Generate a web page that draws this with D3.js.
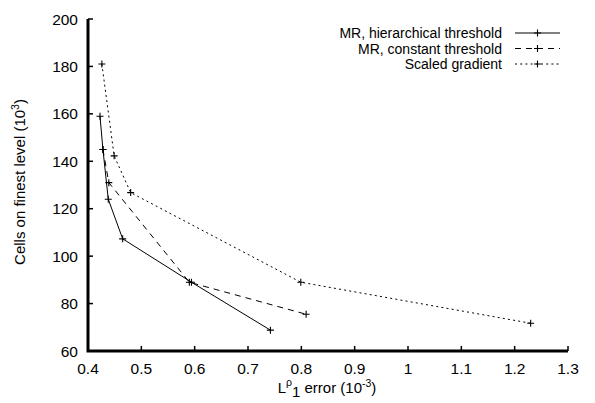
<!DOCTYPE html>
<html lang="en">
<head>
<meta charset="UTF-8">
<title>Cells vs error</title>
<script src="https://cdn.jsdelivr.net/npm/d3@7"></script>
<style>
  body { margin: 0; background: #fff; }
  svg { display: block; overflow: visible; }
  text { font-family: "Liberation Sans", Arial, sans-serif; fill: #000; }
</style>
</head>
<body>
<svg id="mainsvg" width="595" height="403"></svg>
<script>
    // data
    const seriesNames = ["MR, hierarchical threshold", "MR, constant threshold", "Scaled gradient"];
    const hierErr   = [0.4225, 0.428, 0.438, 0.465, 0.594, 0.742];
    const hierCells = [159, 145, 124, 107.3, 89, 68.8];
    const constErr   = [0.428, 0.439, 0.59, 0.809];
    const constCells = [145, 131, 89, 75.5];
    const gradErr   = [0.426, 0.449, 0.48, 0.799, 1.23];
    const gradCells = [181, 142.3, 126.8, 89, 71.7];
    const xTicks = [0.4, 0.5, 0.6, 0.7, 0.8, 0.9, 1, 1.1, 1.2, 1.3];
    const yTicks = [60, 80, 100, 120, 140, 160, 180, 200];

    const svg = d3.select("svg");
    const margin = {top: 19, right: 27, bottom: 52, left: 88};
    const width = +svg.attr("width");
    const height = +svg.attr("height");

    // scales in page pixels, so every text sits at absolute coordinates
    const x = d3.scaleLinear().domain([0.4, 1.3]).range([margin.left, width - margin.right]);
    const y = d3.scaleLinear().domain([60, 200]).range([height - margin.bottom, margin.top]);
    const x0 = x.range()[0], y0 = y.range()[0];

    // thick spines on left/bottom, ticks pointing inward
    svg.append("path")
        .attr("d", `M${x0},${margin.top}V${y0}H${x.range()[1]}`)
        .attr("fill", "none").attr("stroke", "#000").attr("stroke-width", 3);
    svg.selectAll(".xtick").data(xTicks).join("line")
        .attr("class", "xtick")
        .attr("x1", d => x(d)).attr("x2", d => x(d))
        .attr("y1", y0).attr("y2", y0 - 5)
        .attr("stroke", "#000").attr("stroke-width", 1.5);
    svg.selectAll(".xlab").data(xTicks).join("text")
        .attr("class", "xlab")
        .attr("x", d => x(d)).attr("y", y0 + 23)
        .attr("text-anchor", "middle").attr("font-size", 15.5)
        .text(d => String(+d.toFixed(1)));
    svg.selectAll(".ytick").data(yTicks).join("line")
        .attr("class", "ytick")
        .attr("x1", x0).attr("x2", x0 + 5)
        .attr("y1", d => y(d)).attr("y2", d => y(d))
        .attr("stroke", "#000").attr("stroke-width", 1.5);
    svg.selectAll(".ylab").data(yTicks).join("text")
        .attr("class", "ylab")
        .attr("x", x0 - 10).attr("y", d => y(d) + 5.5)
        .attr("text-anchor", "end").attr("font-size", 15.5)
        .text(d => d);

    const series = [
        {name: seriesNames[0], err: hierErr, cells: hierCells, dash: null},
        {name: seriesNames[1], err: constErr, cells: constCells, dash: "6,5"},
        {name: seriesNames[2], err: gradErr, cells: gradCells, dash: "2,3.2"}
    ];

    const line = d3.line().x(d => x(d[0])).y(d => y(d[1]));
    const plus = (cx, cy, s) => `M${cx - s},${cy}H${cx + s}M${cx},${cy - s}V${cy + s}`;

    series.forEach(s => {
        const pts = s.err.map((e, i) => [e, s.cells[i]]);
        svg.append("path")
            .attr("d", line(pts))
            .attr("fill", "none")
            .attr("stroke", "#000")
            .attr("stroke-width", 1)
            .attr("stroke-dasharray", s.dash);
        svg.append("g").selectAll("path").data(pts).join("path")
            .attr("d", d => plus(x(d[0]), y(d[1]), 3.5))
            .attr("stroke", "#000").attr("stroke-width", 1.1);
    });

    // legend
    series.forEach((s, i) => {
        const ly = 33 + i * 15.5;
        svg.append("text")
            .attr("x", 502).attr("y", ly + 5)
            .attr("text-anchor", "end").attr("font-size", 14)
            .text(s.name);
        svg.append("line")
            .attr("x1", 515).attr("x2", 560).attr("y1", ly).attr("y2", ly)
            .attr("stroke", "#000").attr("stroke-width", 1)
            .attr("stroke-dasharray", s.dash);
        svg.append("path")
            .attr("d", plus(537.5, ly, 3.5))
            .attr("stroke", "#000").attr("stroke-width", 1.1);
    });

    // axis titles
    const xt = svg.append("text")
        .attr("x", 327).attr("y", 393)
        .attr("text-anchor", "middle").attr("font-size", 15);
    xt.append("tspan").text("L");
    xt.append("tspan").attr("dy", -7).attr("font-size", 10.5).text("ρ");
    xt.append("tspan").attr("dy", 11).attr("font-size", 15).text("1");
    xt.append("tspan").attr("dy", -4).text(" error (10");
    xt.append("tspan").attr("dy", -6).attr("font-size", 10.5).text("-3");
    xt.append("tspan").attr("dy", 6).text(")");

    const yt = svg.append("text")
        .attr("transform", `translate(25, 182) rotate(-90)`)
        .attr("text-anchor", "middle").attr("font-size", 15);
    yt.append("tspan").text("Cells on finest level (10");
    yt.append("tspan").attr("dy", -6).attr("font-size", 10.5).text("3");
    yt.append("tspan").attr("dy", 6).text(")");
</script>
</body>
</html>
